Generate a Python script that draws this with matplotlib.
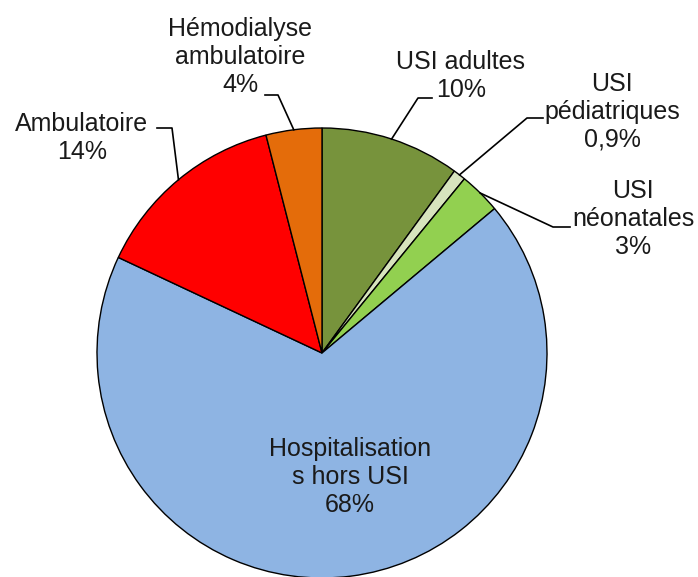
import matplotlib.pyplot as plt
import numpy as np

# data
labels = ['USI adultes', 'USI\npédiatriques', 'USI\nnéonatales',
          'Hospitalisation\ns hors USI', 'Ambulatoire', 'Hémodialyse\nambulatoire']
pct_txt = ['10%', '0,9%', '3%', '68%', '14%', '4%']
values = [10, 0.9, 3, 68, 14, 4]
colors = ['#77933C', '#D7E4BD', '#92D050', '#8EB4E3', '#FF0000', '#E46C0A']

W, H = 698, 577
cx, cy, R = 322, H - 353, 225

# label layout (image pixel coords, y down)
txt_pos = [(461, 76), (612, 112), (633, 219), (350, 477), (82, 138), (240, 57)]
elbow = [(418, 98), (527, 118), (553, 227), None, (172, 128), (278, 95)]
lend = [(432, 98), (543, 118), (570, 227), None, (157, 128), (265, 95)]

plt.rcParams['font.family'] = ['Liberation Sans', 'DejaVu Sans']
fig = plt.figure(figsize=(W/100, H/100), dpi=100)
ax = fig.add_axes([0, 0, 1, 1])

wedges, _ = ax.pie(values, colors=colors, startangle=90, counterclock=False,
                   center=(cx, cy), radius=R,
                   wedgeprops=dict(edgecolor='black', linewidth=1))
# pie() resets the limits, so set them afterwards
ax.set_xlim(0, W)
ax.set_ylim(0, H)
ax.set_aspect('equal')
ax.axis('off')

for i, w in enumerate(wedges):
    tx, ty = txt_pos[i]
    ax.text(tx, H - ty, labels[i] + '\n' + pct_txt[i], ha='center', va='center',
            fontsize=18, color='#1a1a1a', linespacing=1.2)
    if elbow[i] is None:
        continue
    mid = np.deg2rad((w.theta1 + w.theta2) / 2)
    px, py = cx + R*np.cos(mid), cy + R*np.sin(mid)
    ex, ey = elbow[i]
    lx, ly = lend[i]
    ax.plot([px, ex, lx], [py, H - ey, H - ly], color='black', lw=1.2)

fig.savefig('out.png', dpi=100)
